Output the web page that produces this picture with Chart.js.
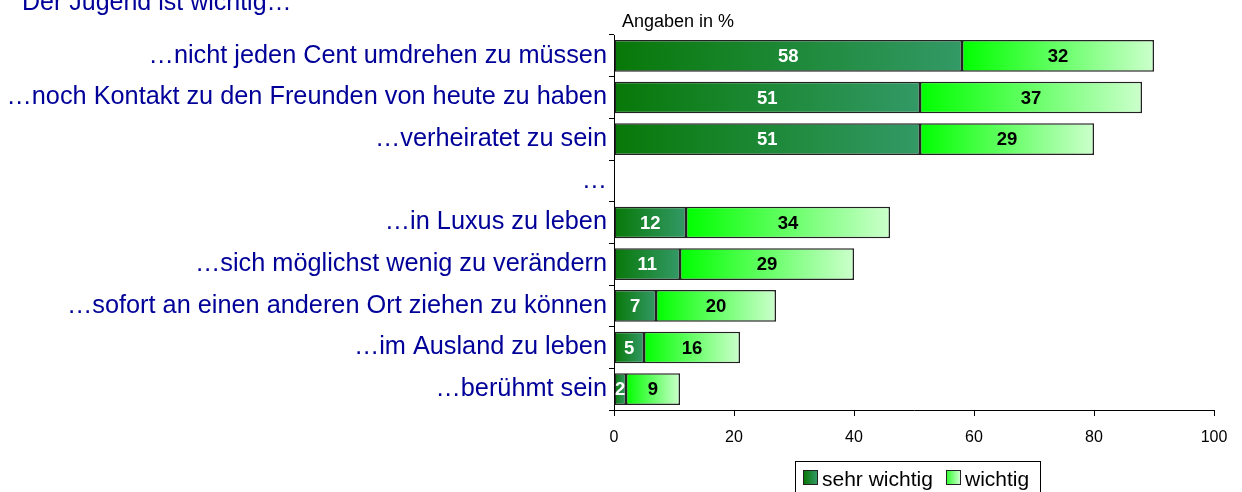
<!DOCTYPE html>
<html>
<head>
<meta charset="utf-8">
<script src="https://cdn.jsdelivr.net/npm/chart.js@4"></script>
<style>
  body { margin: 0; background: #fff; font-family: Arial, "Liberation Sans", sans-serif; }
  #wrap { position: relative; width: 1242px; height: 492px; overflow: hidden; }
  #title { position: absolute; left: 22px; top: -11px; font-size: 25px; line-height: 25px; color: #000099; white-space: nowrap; }
  #unit { position: absolute; left: 622px; top: 12px; font-size: 18px; line-height: 18px; color: #000; }
  #legend { position: absolute; left: 795px; top: 461px; width: 244px; height: 40px; border: 1px solid #000; font-size: 21px; color: #000; }
  .item { position: absolute; top: 5px; white-space: nowrap; }
  .sw { display: inline-block; width: 13px; height: 13px; border: 1px solid #222; margin-right: 4px; vertical-align: 1px; }
</style>
</head>
<body>
<div id="wrap">
  <canvas id="chart" width="1242" height="492"></canvas>
  <div id="title">Der Jugend ist wichtig…</div>
  <div id="unit">Angaben in %</div>
  <div id="legend">
    <span class="item" style="left:7px"><span class="sw" style="background:linear-gradient(90deg,#087808,#339966)"></span>sehr wichtig</span>
    <span class="item" style="left:150px"><span class="sw" style="background:linear-gradient(90deg,#33ff33,#ccffcc)"></span>wichtig</span>
  </div>
</div>
<script>
const categories = [
  "…nicht jeden Cent umdrehen zu müssen",
  "…noch Kontakt zu den Freunden von heute zu haben",
  "…verheiratet zu sein",
  "…",
  "…in Luxus zu leben",
  "…sich möglichst wenig zu verändern",
  "…sofort an einen anderen Ort ziehen zu können",
  "…im Ausland zu leben",
  "…berühmt sein"
];
const sehrWichtig = [58, 51, 51, null, 12, 11, 7, 5, 2];
const wichtig = [32, 37, 29, null, 34, 29, 20, 16, 9];
const xTicks = [0, 20, 40, 60, 80, 100];

const FONT = "Arial, 'Liberation Sans', sans-serif";

function barGradient(c, from, to) {
  const chart = c.chart;
  const x = chart.scales.x;
  if (!chart.chartArea || !x || c.type !== "data") return from;
  const i = c.dataIndex;
  const start = c.datasetIndex === 0 ? 0 : (sehrWichtig[i] || 0);
  const val = c.datasetIndex === 0 ? sehrWichtig[i] : wichtig[i];
  if (val == null) return from;
  const x0 = x.getPixelForValue(start);
  const x1 = x.getPixelForValue(start + val);
  const g = chart.ctx.createLinearGradient(x0, 0, x1, 0);
  g.addColorStop(0, from);
  g.addColorStop(1, to);
  return g;
}

const barLabels = {
  id: "barLabels",
  afterDatasetsDraw(chart) {
    const ctx = chart.ctx;
    ctx.save();
    ctx.font = "bold 18.5px " + FONT;
    ctx.textAlign = "center";
    ctx.textBaseline = "middle";
    chart.data.datasets.forEach((ds, di) => {
      const meta = chart.getDatasetMeta(di);
      meta.data.forEach((bar, i) => {
        const v = ds.data[i];
        if (v == null) return;
        ctx.fillStyle = di === 0 ? "#ffffff" : "#000000";
        ctx.fillText(String(v), (bar.x + bar.base) / 2, bar.y + 1);
      });
    });
    ctx.restore();
  }
};

new Chart(document.getElementById("chart"), {
  type: "bar",
  data: {
    labels: categories,
    datasets: [
      {
        label: "sehr wichtig",
        data: sehrWichtig,
        backgroundColor: c => barGradient(c, "#087808", "#339966"),
        borderColor: "#222222",
        borderWidth: 1.5,
        borderSkipped: false,
        barPercentage: 0.76,
        categoryPercentage: 1
      },
      {
        label: "wichtig",
        data: wichtig,
        backgroundColor: c => barGradient(c, "#00ff00", "#ccffcc"),
        borderColor: "#222222",
        borderWidth: 1.5,
        borderSkipped: false,
        barPercentage: 0.76,
        categoryPercentage: 1
      }
    ]
  },
  options: {
    indexAxis: "y",
    responsive: false,
    animation: false,
    layout: { padding: { top: 35, right: 28, left: 0, bottom: 0 } },
    plugins: {
      legend: { display: false },
      tooltip: { enabled: false }
    },
    scales: {
      x: {
        stacked: true,
        min: 0,
        max: 100,
        afterBuildTicks: s => { s.ticks = xTicks.map(v => ({ value: v })); },
        afterFit: s => { s.height = 82; },
        grid: { drawOnChartArea: false, tickLength: 6, color: "#000" },
        border: { color: "#000", width: 1 },
        ticks: { color: "#000", font: { size: 16, family: FONT }, padding: 12, maxRotation: 0 }
      },
      y: {
        stacked: true,
        afterFit: s => { s.width = 614; },
        grid: { drawOnChartArea: false, offset: true, tickLength: 5, color: "#000" },
        border: { color: "#000", width: 1 },
        ticks: { color: "#000099", font: { size: 25.3, family: FONT }, padding: 2, autoSkip: false }
      }
    }
  },
  plugins: [barLabels]
});
</script>
</body>
</html>
